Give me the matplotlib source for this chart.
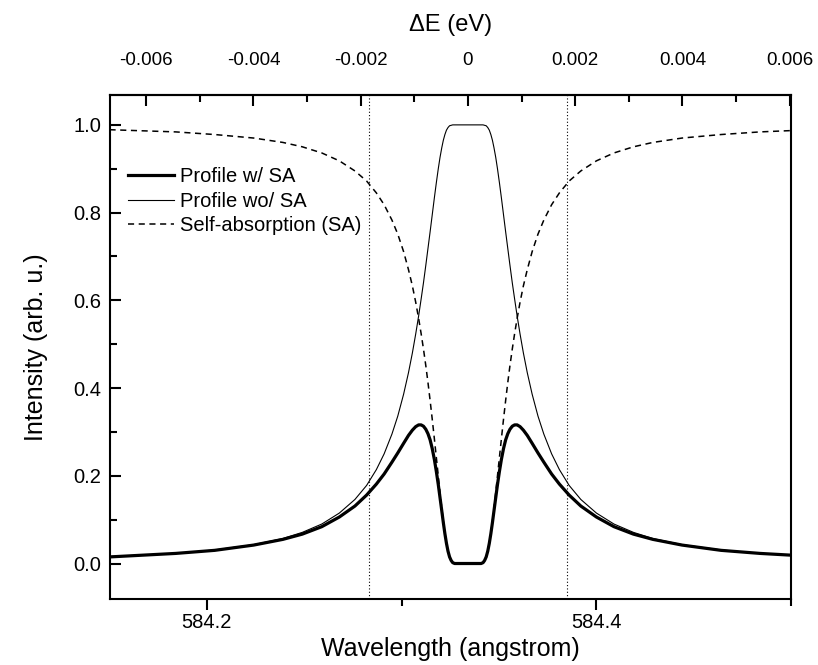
import numpy as np
import matplotlib
matplotlib.use("Agg")
import matplotlib.pyplot as plt
from matplotlib.ticker import MultipleLocator, FixedLocator, FuncFormatter

plt.rcParams["font.family"] = ["Liberation Sans", "DejaVu Sans"]
plt.rcParams["axes.unicode_minus"] = False

# wavelength grid (angstrom), He I 584.334 line
wavelength = [584.150, 584.184, 584.204, 584.224, 584.239, 584.249, 584.259,
              584.268, 584.276, 584.282, 584.287, 584.291, 584.295, 584.298,
              584.301, 584.3035, 584.3055, 584.3072, 584.3087, 584.3100,
              584.3112, 584.3124, 584.3135, 584.3146, 584.3157, 584.3168,
              584.3178, 584.3188, 584.3197, 584.3206, 584.3214, 584.3222,
              584.3230, 584.3238, 584.3246, 584.3254, 584.3262, 584.3272,
              584.3285, 584.331, 584.334,
              584.337, 584.3395, 584.3408, 584.3418, 584.3426, 584.3434,
              584.3442, 584.3450, 584.3458, 584.3466, 584.3474, 584.3483,
              584.3492, 584.3502, 584.3512, 584.3523, 584.3534, 584.3545,
              584.3556, 584.3568, 584.3580, 584.3593, 584.3608, 584.3625,
              584.3645, 584.367, 584.370, 584.373, 584.377, 584.381, 584.386,
              584.392, 584.400, 584.409, 584.419, 584.429, 584.444, 584.464,
              584.484, 584.500]

profile_wo_sa = [0.016, 0.023, 0.031, 0.043, 0.057, 0.071, 0.090, 0.115, 0.146,
                 0.178, 0.214, 0.250, 0.295, 0.336, 0.386, 0.435, 0.480, 0.523,
                 0.564, 0.603, 0.640, 0.680, 0.718, 0.756, 0.795, 0.834, 0.868,
                 0.900, 0.926, 0.948, 0.965, 0.978, 0.988, 0.994, 0.998, 0.999,
                 1.000, 1.000, 1.000, 1.000, 1.000,
                 1.000, 1.000, 1.000, 1.000, 0.999, 0.998, 0.994, 0.988, 0.978,
                 0.965, 0.948, 0.926, 0.900, 0.868, 0.834, 0.795, 0.756, 0.718,
                 0.680, 0.640, 0.603, 0.564, 0.523, 0.480, 0.435, 0.386, 0.336,
                 0.295, 0.250, 0.214, 0.178, 0.146, 0.115, 0.090, 0.071, 0.057,
                 0.043, 0.031, 0.023, 0.019]

self_absorption = [0.989, 0.984, 0.978, 0.970, 0.960, 0.950, 0.936, 0.918,
                   0.895, 0.872, 0.845, 0.818, 0.783, 0.751, 0.711, 0.670,
                   0.633, 0.596, 0.559, 0.524, 0.489, 0.451, 0.413, 0.372,
                   0.329, 0.284, 0.242, 0.200, 0.162, 0.126, 0.096, 0.069,
                   0.046, 0.028, 0.015, 0.007, 0.002, 0.000, 0.000, 0.000, 0.000,
                   0.000, 0.000, 0.000, 0.002, 0.007, 0.015, 0.028, 0.046, 0.069,
                   0.096, 0.126, 0.162, 0.200, 0.242, 0.284, 0.329, 0.372, 0.413,
                   0.451, 0.489, 0.524, 0.559, 0.596, 0.633, 0.670, 0.711, 0.751,
                   0.783, 0.818, 0.845, 0.872, 0.895, 0.918, 0.936, 0.950, 0.960,
                   0.970, 0.978, 0.984, 0.987]

profile_w_sa = [0.015, 0.023, 0.030, 0.042, 0.055, 0.067, 0.084, 0.106, 0.131,
                0.156, 0.181, 0.204, 0.231, 0.252, 0.274, 0.292, 0.304, 0.312,
                0.316, 0.316, 0.313, 0.306, 0.296, 0.282, 0.262, 0.237, 0.210,
                0.180, 0.150, 0.120, 0.093, 0.068, 0.046, 0.028, 0.015, 0.007,
                0.002, 0.000, 0.000, 0.000, 0.000,
                0.000, 0.000, 0.000, 0.002, 0.007, 0.015, 0.028, 0.046, 0.068,
                0.093, 0.120, 0.150, 0.180, 0.210, 0.237, 0.262, 0.282, 0.296,
                0.306, 0.313, 0.316, 0.316, 0.312, 0.304, 0.292, 0.274, 0.252,
                0.231, 0.204, 0.181, 0.156, 0.131, 0.106, 0.084, 0.067, 0.055,
                0.042, 0.030, 0.023, 0.019]

marker_lines = [584.2834, 584.3850]   # dotted verticals

LAMBDA0 = 584.334
HC = 12398.42  # eV * angstrom


def lam_to_de(lam):
    lam = np.asarray(lam, dtype=float)
    return HC * (1.0 / LAMBDA0 - 1.0 / lam)


def de_to_lam(de):
    de = np.asarray(de, dtype=float)
    return 1.0 / (1.0 / LAMBDA0 - de / HC)


fig = plt.figure(figsize=(8.18, 6.65), dpi=100)
ax = fig.add_axes([0.1339, 0.0992, 0.8333, 0.7572])

for xv in marker_lines:
    ax.axvline(xv, color="black", lw=0.8, ls=(0, (1, 2)))

ax.plot(wavelength, self_absorption, color="black", lw=1.1, ls=(0, (4, 3)),
        label="Self-absorption (SA)")
ax.plot(wavelength, profile_wo_sa, color="black", lw=0.8, label="Profile wo/ SA")
ax.plot(wavelength, profile_w_sa, color="black", lw=2.3, label="Profile w/ SA")

ax.set_xlim(584.15, 584.50)
ax.set_ylim(-0.081, 1.067)

ax.xaxis.set_major_locator(FixedLocator([584.2, 584.4]))
ax.xaxis.set_minor_locator(FixedLocator([584.3, 584.5]))
ax.xaxis.set_major_formatter(FuncFormatter(lambda v, p: f"{v:.1f}"))
ax.yaxis.set_major_locator(MultipleLocator(0.2))
ax.yaxis.set_minor_locator(MultipleLocator(0.1))
ax.yaxis.set_major_formatter(FuncFormatter(lambda v, p: f"{v:.1f}"))

ax.tick_params(axis="x", which="both", direction="out", top=False,
               labelsize=14.5, width=1.5, pad=2)
ax.tick_params(axis="y", which="both", direction="in", right=False,
               labelsize=14.5, width=1.5, pad=6)
ax.tick_params(which="major", length=8)
ax.tick_params(which="minor", length=5)
for s in ax.spines.values():
    s.set_linewidth(1.5)

top = ax.secondary_xaxis("top", functions=(lam_to_de, de_to_lam))
top.xaxis.set_major_locator(MultipleLocator(0.002))
top.xaxis.set_minor_locator(MultipleLocator(0.001))
top.xaxis.set_major_formatter(
    FuncFormatter(lambda v, p: "0" if abs(v) < 1e-9 else f"{v:.3f}"))
top.tick_params(which="both", direction="in", labelsize=13.5, width=1.5, pad=19)
top.tick_params(which="major", length=8)
top.tick_params(which="minor", length=5)
top.spines["top"].set_linewidth(1.5)
top.set_xlabel("\u0394E (eV)", fontsize=17, labelpad=15)

ax.set_xlabel("Wavelength (angstrom)", fontsize=18, labelpad=4)
ax.set_ylabel("Intensity (arb. u.)", fontsize=18, labelpad=18)

handles, labels = ax.get_legend_handles_labels()
order = [2, 1, 0]
ax.legend([handles[i] for i in order], [labels[i] for i in order],
          loc="upper left", bbox_to_anchor=(0.027, 0.857), frameon=False,
          fontsize=14.5, borderaxespad=0, borderpad=0, handlelength=2.3,
          handletextpad=0.3, labelspacing=0.27)

fig.savefig("out.png", dpi=100)
